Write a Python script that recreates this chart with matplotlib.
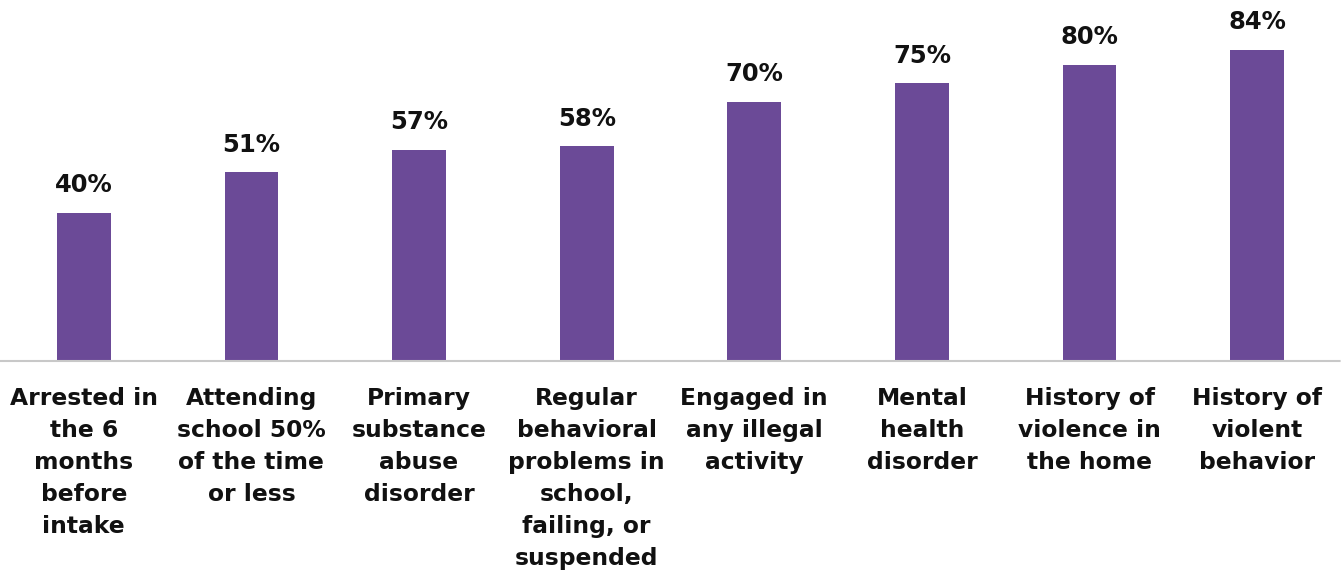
import matplotlib
matplotlib.use("Agg")
import matplotlib.pyplot as plt

# -----------------------------
# Data
# -----------------------------
categories = [
    "Arrested in\nthe 6\nmonths\nbefore\nintake",
    "Attending\nschool 50%\nof the time\nor less",
    "Primary\nsubstance\nabuse\ndisorder",
    "Regular\nbehavioral\nproblems in\nschool,\nfailing, or\nsuspended",
    "Engaged in\nany illegal\nactivity",
    "Mental\nhealth\ndisorder",
    "History of\nviolence in\nthe home",
    "History of\nviolent\nbehavior",
]
values = [40, 51, 57, 58, 70, 75, 80, 84]

BAR_COLOR = "#6B4A97"

fig = plt.figure(figsize=(13.41, 5.71), dpi=100)
ax = fig.add_axes([0, 1 - 361 / 571, 1, 361 / 571])

x = range(len(values))
ax.bar(x, values, width=0.32, color=BAR_COLOR)

# value labels above the bars
for xi, v in zip(x, values):
    ax.text(xi, v + 4.2, f"{v}%", ha="center", va="bottom",
            fontsize=17.5, fontweight="bold", color="#111111")

ax.set_xlim(-0.5, len(values) - 0.5)
ax.set_ylim(0, 97.5)

ax.set_xticks(list(x))
ax.set_xticklabels(categories, fontsize=16.8, fontweight="bold",
                   color="#111111", linespacing=1.5)
ax.tick_params(axis="x", length=0, pad=19)
ax.set_yticks([])

for side in ["top", "right", "left"]:
    ax.spines[side].set_visible(False)
ax.spines["bottom"].set_color("#C8C8C8")
ax.spines["bottom"].set_linestyle((0, (1, 1)))
ax.spines["bottom"].set_linewidth(1.5)

fig.savefig("out.png", dpi=100)
